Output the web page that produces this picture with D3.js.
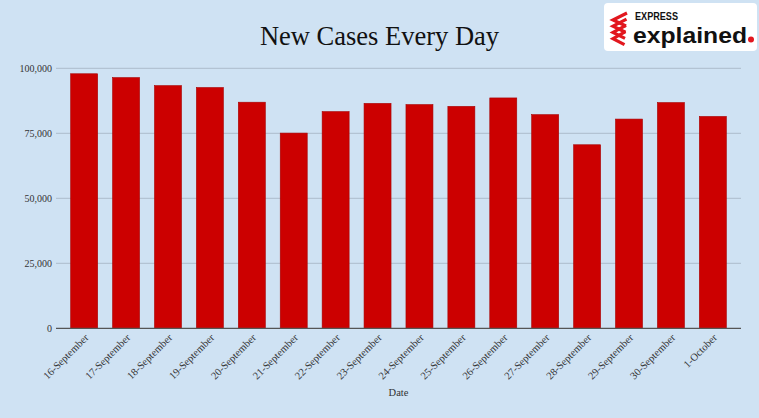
<!DOCTYPE html>
<html>
<head>
<meta charset="utf-8">
<script src="https://cdn.jsdelivr.net/npm/d3@7"></script>
<style>
html,body{margin:0;padding:0;background:#cfe2f3;}
svg{display:block;}
</style>
</head>
<body>
<svg id="chart" width="759" height="418"></svg>
<script>
const categories = ["16-September","17-September","18-September","19-September","20-September","21-September","22-September","23-September","24-September","25-September","26-September","27-September","28-September","29-September","30-September","1-October"];
const newCases = [97894,96424,93337,92605,86961,75083,83347,86508,86052,85362,88600,82170,70589,80472,86821,81484];
const yTicks = [0,25000,50000,75000,100000];
const title = "New Cases Every Day";
const xTitle = "Date";

const W = 759, H = 418;
const m = {left:56, right:18, top:68.3, bottom:89.7};
const svg = d3.select("#chart");
svg.append("rect").attr("width",W).attr("height",H).attr("fill","#cfe2f3");

const x = d3.scaleBand().domain(categories).range([m.left, W - m.right]).paddingInner(0.356).paddingOuter(0.35);
const y = d3.scaleLinear().domain([0,100000]).range([H - m.bottom, m.top]);

const serif = "'Liberation Serif','DejaVu Serif',serif";

// title
svg.append("text").attr("x", W/2).attr("y", 45).attr("text-anchor","middle")
  .attr("font-family", serif).attr("font-size", 26.5).attr("fill","#111").text(title);

// grid
svg.append("g").selectAll("line").data(yTicks.filter(d=>d>0)).join("line")
  .attr("x1", m.left).attr("x2", W - m.right)
  .attr("y1", d=>y(d)).attr("y2", d=>y(d))
  .attr("stroke","#b3c3d3").attr("stroke-width",1.2);

// y axis labels
const yAxis = d3.axisLeft(y).tickValues(yTicks).tickSize(0).tickPadding(4).tickFormat(d3.format(","));
const gy = svg.append("g").attr("transform",`translate(${m.left},0)`).call(yAxis);
gy.select(".domain").remove();
gy.selectAll("text").attr("font-family", serif).attr("font-size", 10).attr("fill","#333");

// bars
svg.append("g").selectAll("rect").data(categories).join("rect")
  .attr("x", d=>x(d)).attr("width", x.bandwidth())
  .attr("y", (d,i)=>y(newCases[i])).attr("height", (d,i)=>y(0)-y(newCases[i]))
  .attr("fill","#cc0000").attr("stroke","#a80000").attr("stroke-width",0.6);

// x axis
const xAxis = d3.axisBottom(x).tickSize(0).tickPadding(0);
const gx = svg.append("g").attr("transform",`translate(0,${y(0)})`).call(xAxis);
gx.select(".domain").attr("stroke","#555").attr("stroke-width",1.2).attr("d",`M${m.left},0H${W-m.right}`);
gx.selectAll("text").attr("font-family", serif).attr("font-size", 10.5).attr("fill","#333")
  .attr("text-anchor","end").attr("dy",0)
  .attr("transform","translate(5,10) rotate(-45)");

svg.append("text").attr("x",(m.left + W - m.right)/2).attr("y",396).attr("text-anchor","middle")
  .attr("font-family", serif).attr("font-size", 10.5).attr("fill","#333").text(xTitle);

// logo
const logo = svg.append("g");
logo.append("rect").attr("x",604).attr("y",3).attr("width",153).attr("height",48).attr("rx",4).attr("fill","#ffffff");
const stripes = logo.append("g").attr("fill","none").attr("stroke","#e2171e").attr("stroke-width",3.2).attr("stroke-linejoin","miter");
for (let k=0;k<4;k++){
  const oy = 13 + k*6.2;
  stripes.append("path").attr("d",`M${627 - k*0.5},${oy} L${613},${oy+7} L${626 - k*0.5},${oy+13}`);
}
logo.append("text").attr("x",635).attr("y",19.5).attr("font-family","'Liberation Sans',Arial,sans-serif")
  .attr("font-weight","bold").attr("font-size",10).attr("textLength",43).attr("lengthAdjust","spacingAndGlyphs").attr("fill","#111").text("EXPRESS");
logo.append("text").attr("x",633).attr("y",42.5).attr("font-family","'Liberation Sans',Arial,sans-serif")
  .attr("font-weight","bold").attr("font-size",22.5).attr("textLength",114).attr("lengthAdjust","spacingAndGlyphs").attr("fill","#111").text("explained");
logo.append("circle").attr("cx",751).attr("cy",39.5).attr("r",3).attr("fill","#e2171e");
</script>
</body>
</html>
